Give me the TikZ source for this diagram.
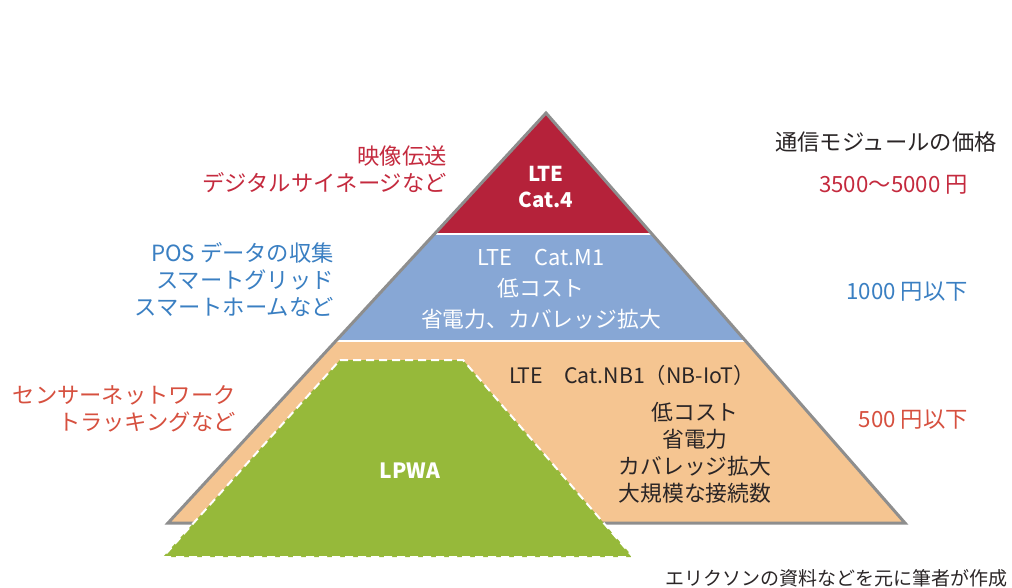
\documentclass[tikz,border=0pt]{standalone}
\usepackage{fontspec}
\setmainfont{Noto Sans CJK JP}
\definecolor{catred}{HTML}{B5223A}
\definecolor{catblue}{HTML}{87A7D5}
\definecolor{catorange}{HTML}{F5C591}
\definecolor{lpgreen}{HTML}{96B93A}
\definecolor{edgegrey}{HTML}{8E8E8E}
\definecolor{txtred}{HTML}{C42A3E}
\definecolor{txtorange}{HTML}{D6503F}
\definecolor{txtblue}{HTML}{3A7FC2}
\definecolor{txtdark}{HTML}{2A2526}
\tikzset{
  lbl/.style={inner sep=0pt, font=\fontsize{22.3pt}{27pt}\selectfont},
  wlbl/.style={lbl, text=white},
  wbold/.style={inner sep=0pt, text=white, font=\fontsize{20.5pt}{26pt}\selectfont\bfseries},
}
\begin{document}
\begin{tikzpicture}[x=1pt,y=-1pt]
\useasboundingbox (0,0) rectangle (1012,588);
\coordinate (apex) at (546,113);
\coordinate (bl) at (168,523);
\coordinate (br) at (905,523);
% bands clipped by pyramid
\begin{scope}
\clip (apex) -- (br) -- (bl) -- cycle;
\fill[catred] (150,100) rectangle (920,234);
\fill[catblue] (150,234) rectangle (920,341);
\fill[catorange] (150,341) rectangle (920,530);
\draw[white, line width=2.5pt] (150,234) -- (920,234);
\draw[white, line width=2.5pt] (150,341) -- (920,341);
\end{scope}
\draw[edgegrey, line width=3pt, line join=miter] (apex) -- (br) -- (bl) -- cycle;
% LPWA trapezoid
\fill[lpgreen] (340,360) -- (463,360) -- (633,557) -- (163,557) -- cycle;
\draw[white, line width=2pt, dash pattern=on 8pt off 5pt] (340,360) -- (463,360) -- (633,557) -- (163,557) -- cycle;
% inner texts
\node[wbold, align=center] (c4) at (546,187) {LTE\\Cat.4};
\node[wlbl, align=center, font=\fontsize{21.8pt}{31pt}\selectfont] (m1) at (541,289) {LTE　Cat.M1\\低コスト\\省電力、カバレッジ拡大};
\node[lbl, text=txtdark, font=\fontsize{21.3pt}{27pt}\selectfont] (nb1) at (632,375) {LTE　Cat.NB1（NB-IoT）};
\node[lbl, text=txtdark, align=center, font=\fontsize{21.8pt}{27pt}\selectfont] (nbf) at (695,453) {低コスト\\省電力\\カバレッジ拡大\\大規模な接続数};
\node[wbold, font=\fontsize{21pt}{26pt}\selectfont\bfseries] (lpwa) at (410,471) {LPWA};
% left labels
\node[lbl, text=txtred, align=right, anchor=east] (u1) at (447,169) {映像伝送\\デジタルサイネージなど};
\node[lbl, text=txtblue, align=right, anchor=east] (u2) at (334,280) {POS データの収集\\スマートグリッド\\スマートホームなど};
\node[lbl, text=txtorange, align=right, anchor=east] (u3) at (236,409) {センサーネットワーク\\トラッキングなど};
% right labels
\node[lbl, text=txtdark] (hd) at (886,142) {通信モジュールの価格};
\node[lbl, text=txtred, anchor=east] (p1) at (968,185) {3500～5000 円};
\node[lbl, text=txtblue, anchor=east] (p2) at (968,292) {1000 円以下};
\node[lbl, text=txtorange, anchor=east] (p3) at (968,420) {500 円以下};
% note
\node[inner sep=0pt, text=txtdark, font=\fontsize{19pt}{22pt}\selectfont, anchor=east] (note) at (1008,578) {エリクソンの資料などを元に筆者が作成};
\end{tikzpicture}
\end{document}
